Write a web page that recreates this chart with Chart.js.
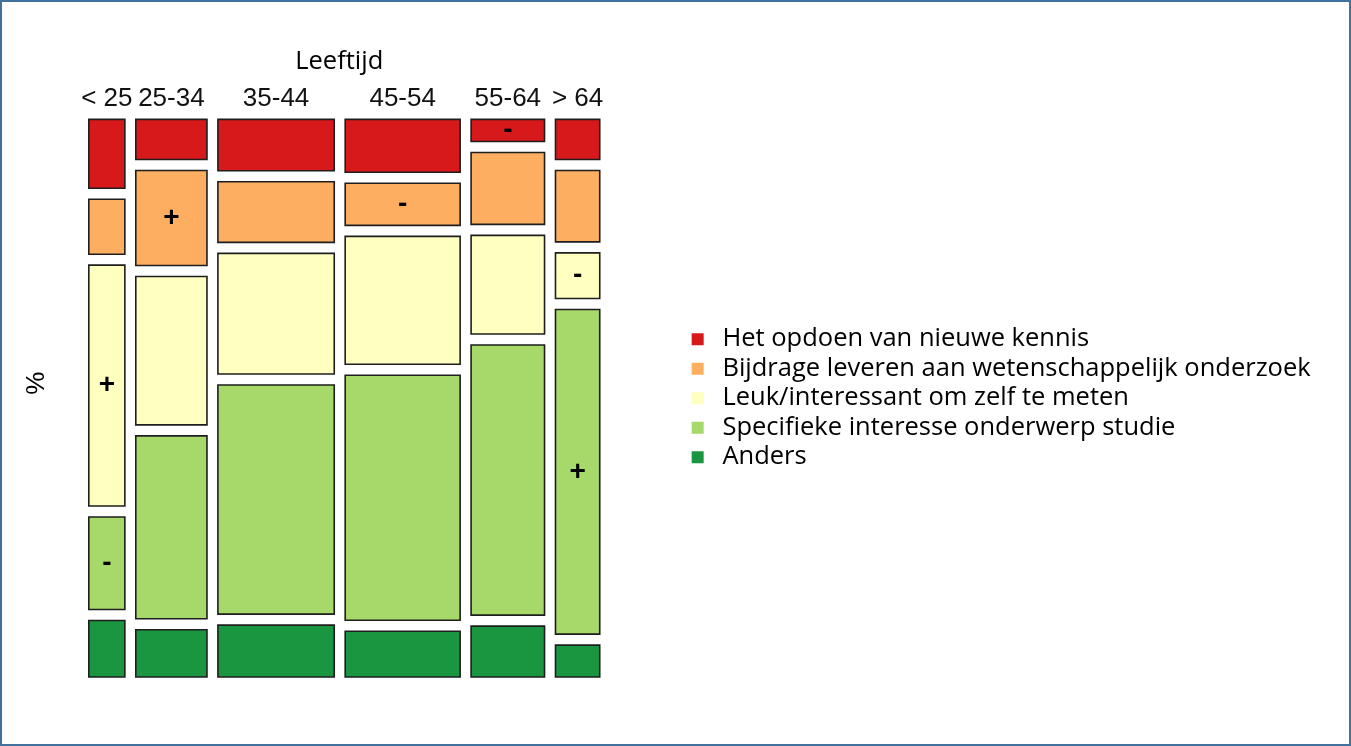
<!DOCTYPE html>
<html>
<head>
<meta charset="utf-8">
<script src="https://cdn.jsdelivr.net/npm/chart.js"></script>
<style>
html,body{margin:0;padding:0;background:#fff;}
#wrap{position:relative;width:1351px;height:746px;overflow:hidden;}
#c{position:absolute;left:0;top:0;}
#frame{position:absolute;left:0;top:0;width:1351px;height:746px;border:2px solid #41719C;box-sizing:border-box;pointer-events:none;}
</style>
</head>
<body>
<div id="wrap"><canvas id="c" width="1351" height="746"></canvas><div id="frame"></div></div>
<script>
// ---- data ----
const ageGroups = ['< 25', '25-34', '35-44', '45-54', '55-64', '> 64'];
const motives = [
  'Het opdoen van nieuwe kennis',
  'Bijdrage leveren aan wetenschappelijk onderzoek',
  'Leuk/interessant om zelf te meten',
  'Specifieke interesse onderwerp studie',
  'Anders'
];
// share of respondents per age group (%), = column widths
const ageShare = [7.9, 15.6, 25.5, 25.2, 16.1, 9.7];
// share of each motive within an age group (%)
const kennis    = [13.4,  7.8, 10.0, 10.3,  4.3,  7.8];
const bijdrage  = [10.7, 18.5, 11.8,  8.2, 14.0, 13.9];
const leuk      = [46.9, 28.9, 23.5, 24.9, 19.2,  8.9];
const specifiek = [18.0, 35.6, 44.6, 47.7, 52.6, 63.2];
const anders    = [11.0,  9.2, 10.1,  8.9,  9.9,  6.2];
// residual signs shown in cells
const signKennis    = ['', '', '', '', '-', ''];
const signBijdrage  = ['', '+', '', '-', '', ''];
const signLeuk      = ['+', '', '', '', '', '-'];
const signSpecifiek = ['-', '', '', '', '', '+'];
const signAnders    = ['', '', '', '', '', ''];

const colors = ['#D7191C', '#FDAE61', '#FFFFBF', '#A6D96A', '#1A9641'];
const series = [kennis, bijdrage, leuk, specifiek, anders];
const signs = [signKennis, signBijdrage, signLeuk, signSpecifiek, signAnders];

// ---- layout constants (gaps between tiles, in axis units) ----
const GAP_X = 2.4, GAP_Y = 2.14;
const xTotal = 100 + GAP_X * (ageGroups.length - 1);
const yTotal = 100 + GAP_Y * (motives.length - 1);
const X_MIN = -10.70, X_MAX = 129.96;

const colStart = [];
let acc = 0;
ageShare.forEach(s => { colStart.push(acc); acc += s + GAP_X; });
const colCenter = ageShare.map((s, i) => colStart[i] + s / 2);

const cells = [];
ageGroups.forEach((a, i) => {
  let y = 0;
  series.forEach((vals, m) => {
    const c = {i, m, x0: colStart[i], x1: colStart[i] + ageShare[i], y0: y, y1: y + vals[i]};
    cells.push(c);
    y = c.y1 + GAP_Y;
  });
});

const datasets = cells.map(c => ({
  label: motives[c.m],
  data: [
    {x: c.x0, y: c.y0}, {x: c.x1, y: c.y0}, {x: c.x1, y: c.y1},
    {x: c.x0, y: c.y1}, {x: c.x0, y: c.y0}
  ],
  backgroundColor: colors[c.m],
  borderColor: '#1e1e1e',
  borderWidth: 1.6,
  borderJoinStyle: 'miter',
  borderCapStyle: 'square',
  fill: 'shape',
  pointRadius: 0,
  pointHoverRadius: 0,
  tension: 0,
  clip: false
}));

const annot = {
  id: 'annot',
  afterDatasetsDraw(chart) {
    const {ctx, chartArea} = chart;
    const x = chart.scales.x, y = chart.scales.y;
    ctx.save();
    ctx.fillStyle = '#000';
    ctx.textAlign = 'center';
    ctx.textBaseline = 'middle';
    ctx.font = 'bold 28px "Liberation Sans", Arial, sans-serif';
    cells.forEach(c => {
      const s = signs[c.m][c.i];
      if (!s) return;
      ctx.fillText(s, x.getPixelForValue((c.x0 + c.x1) / 2), y.getPixelForValue((c.y0 + c.y1) / 2));
    });
    ctx.font = '25.5px "Open Sans", sans-serif';
    ctx.textBaseline = 'alphabetic';
    ctx.fillText('Leeftijd', x.getPixelForValue(xTotal / 2) - 5, chartArea.top - 50);
    ctx.translate(x.getPixelForValue(0) - 52, (chartArea.top + chartArea.bottom) / 2 - 15);
    ctx.rotate(-Math.PI / 2);
    ctx.font = '26px "Liberation Sans", Arial, sans-serif';
    ctx.textBaseline = 'middle';
    ctx.fillText('%', 0, 0);
    ctx.restore();
  }
};

new Chart(document.getElementById('c'), {
  type: 'line',
  data: {datasets},
  plugins: [annot],
  options: {
    responsive: false,
    animation: false,
    events: [],
    layout: {padding: {left: 40, top: 77.4, right: 30.35, bottom: 69}},
    scales: {
      x: {
        type: 'linear', position: 'top', min: X_MIN, max: X_MAX, bounds: 'data',
        grid: {display: false, drawTicks: false, tickLength: 0}, border: {display: false},
        afterBuildTicks: s => { s.ticks = colCenter.map(v => ({value: v})); },
        ticks: {
          autoSkip: false, maxRotation: 0, padding: 5.4, color: '#111',
          font: {family: '"Liberation Sans", Arial, sans-serif', size: 26},
          callback: (v, i) => ageGroups[i]
        }
      },
      y: {
        type: 'linear', display: false, reverse: true, min: 0, max: yTotal
      }
    },
    plugins: {
      tooltip: {enabled: false},
      legend: {
        position: 'right', fullSize: false, align: 'center', onClick: null,
        labels: {
          usePointStyle: true, pointStyle: 'rect', boxWidth: 24, boxHeight: 12, padding: 4,
          color: '#000', font: {family: '"Open Sans", sans-serif', size: 25.5},
          generateLabels: () => motives.map((t, m) => ({
            text: t, fillStyle: colors[m], strokeStyle: colors[m], lineWidth: 0,
            pointStyle: 'rect', hidden: false, datasetIndex: m
          }))
        }
      }
    }
  }
});
</script>
</body>
</html>
